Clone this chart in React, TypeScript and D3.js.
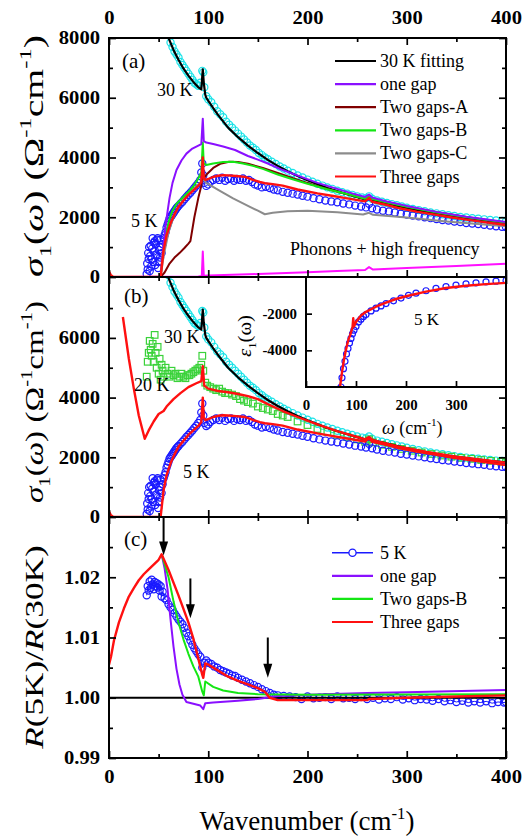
import React, { useEffect, useRef } from 'react';
import * as d3 from 'd3';

type Pt = [number, number];

// ---------- data (wavenumber cm-1, value) ----------
// panel (a) / (b): sigma_1(omega)
const data30K: Pt[] = [
  [58, 8300], [60, 8100], [62, 7850], [64, 7700], [66, 7550], [68, 7450], [70, 7350], [72, 7200], [74, 7100],
  [76, 7000], [78, 6900], [80, 6800], [82, 6700], [84, 6600], [86, 6500], [88, 6450], [90, 6400], [92, 6500],
  [94, 6900], [95, 6850], [96, 6350], [98, 6050], [100, 5950], [103, 5850], [106, 5700], [109, 5550], [112, 5450],
  [115, 5350], [118, 5200], [121, 5100], [124, 5000], [127, 4900], [130, 4800], [133, 4700], [136, 4600],
  [139, 4500], [142, 4400], [145, 4330], [148, 4250], [151, 4150], [154, 4080], [157, 4000], [160, 3940],
  [164, 3860], [168, 3780], [172, 3700], [176, 3630], [180, 3560], [185, 3480], [190, 3400], [195, 3330],
  [200, 3260], [205, 3190], [210, 3120], [215, 3060], [220, 3000], [225, 2950], [230, 2890], [235, 2840],
  [240, 2790], [245, 2750], [250, 2700], [255, 2660], [259, 2640], [262, 2700], [265, 2620], [270, 2560],
  [275, 2520], [280, 2480], [285, 2440], [290, 2400], [295, 2360], [300, 2320], [306, 2280], [312, 2240],
  [318, 2200], [324, 2160], [330, 2130], [336, 2100], [342, 2070], [348, 2040], [354, 2010], [360, 1990],
  [366, 1970], [372, 1950], [378, 1930], [384, 1910], [390, 1890], [396, 1875], [400, 1865],
];
const fit30K: Pt[] = [
  [56, 8450], [58, 8200], [60, 8000], [65, 7600], [70, 7270], [75, 6980], [80, 6740], [85, 6530], [90, 6350], [93, 6280],
  [94.5, 6950], [95.5, 6500], [97, 6100], [98, 6000], [105, 5650], [110, 5420], [120, 5000], [130, 4680],
  [140, 4400], [150, 4150], [160, 3920], [170, 3720], [180, 3540], [190, 3380], [200, 3240], [220, 2980],
  [240, 2770], [258, 2600], [262, 2660], [265, 2580], [280, 2460], [300, 2300], [320, 2170], [340, 2060],
  [360, 1970], [380, 1890], [400, 1830],
];
const data5K: Pt[] = [
  [38, 100], [38.5, 450], [39, 250], [39.5, 800], [40, 600], [40.5, 1000], [41, 200], [41.5, 700], [42, 1050],
  [42.5, 350], [43, 600], [43.5, 950], [44, 1300], [44.5, 500], [45, 850], [45.5, 1150], [46, 1200], [46.5, 400],
  [47, 1100], [47.5, 750], [48, 700], [48.5, 1250], [49, 1300], [49.5, 300], [50, 500], [50.5, 900], [51, 1000],
  [51.5, 650], [52, 1250], [52.5, 1000], [53, 800], [54, 1100], [55, 1300], [56, 1400], [57, 1500], [58, 1650],
  [59, 1750], [60, 1850], [61, 1950], [62, 2000], [63, 2050], [64, 2100], [65, 2150], [66, 2200], [67, 2250],
  [68, 2300], [69, 2340], [70, 2380], [72, 2450], [74, 2520], [76, 2600], [78, 2680], [80, 2750], [82, 2820],
  [84, 2900], [86, 2980], [88, 3060], [90, 3150], [92, 3250], [93, 3500], [94, 3800], [95, 3400], [96, 3150],
  [98, 3050], [100, 3100], [102, 3180], [105, 3250], [108, 3300], [111, 3250], [114, 3320], [117, 3220],
  [120, 3280], [123, 3300], [126, 3220], [129, 3280], [132, 3250], [135, 3300], [138, 3220], [141, 3250],
  [144, 3180], [147, 3100], [150, 3060], [154, 3000], [158, 3020], [162, 2980], [166, 2930], [170, 2900],
  [175, 2850], [180, 2820], [185, 2790], [190, 2760], [195, 2720], [200, 2690], [206, 2640], [212, 2600],
  [218, 2560], [224, 2530], [230, 2500], [236, 2460], [242, 2430], [248, 2390], [254, 2360], [259, 2330],
  [262, 2450], [265, 2300], [270, 2260], [276, 2220], [282, 2190], [288, 2160], [294, 2120], [300, 2090],
  [306, 2060], [312, 2030], [318, 2000], [324, 1970], [330, 1940], [336, 1910], [342, 1890], [348, 1860],
  [354, 1840], [360, 1810], [366, 1790], [372, 1770], [378, 1750], [384, 1720], [390, 1700], [396, 1680],
  [400, 1670],
];
const fitOneGap: Pt[] = [
  [0, 0], [52, 0], [53.5, 600], [55, 1100], [57, 1700], [59, 2200], [61, 2650], [64, 3150], [68, 3580],
  [73, 3900], [78, 4130], [84, 4300], [90, 4400], [93, 4450], [94.5, 5300], [95.5, 4550], [98, 4500],
  [105, 4450], [115, 4370], [127, 4250], [140, 4050], [150, 3930], [160, 3800], [175, 3580], [193, 3360],
  [210, 3150], [230, 2950], [245, 2800], [258, 2680], [262, 2760], [265, 2660], [280, 2530], [300, 2380],
  [330, 2180], [360, 2020], [400, 1840],
];
const fitTwoGapsA: Pt[] = [
  [0, 0], [52, 0], [56, 150], [61, 450], [66, 650], [71, 800], [76, 970], [80, 1120], [82, 1200], [86, 2000],
  [90, 2650], [93, 3050], [94.5, 3500], [95.5, 3300], [98, 3420], [105, 3650], [112, 3790], [121, 3860],
  [130, 3850], [140, 3790], [155, 3650], [170, 3480], [195, 3200], [215, 2990], [235, 2810], [258, 2620],
  [262, 2700], [265, 2610], [280, 2500], [300, 2360], [330, 2170], [360, 2010], [400, 1810],
];
const fitTwoGapsB: Pt[] = [
  [0, 0], [52, 0], [54, 700], [56, 1200], [58, 1550], [61, 1950], [64, 2220], [68, 2450], [74, 2650],
  [80, 2850], [85, 3030], [90, 3300], [93, 3500], [94.5, 4500], [95.5, 3800], [98, 3750], [105, 3800],
  [115, 3850], [125, 3860], [135, 3800], [145, 3720], [155, 3620], [170, 3430], [185, 3270], [200, 3120],
  [220, 2940], [240, 2780], [258, 2620], [262, 2700], [265, 2610], [280, 2490], [300, 2350], [330, 2160],
  [360, 2000], [400, 1820],
];
const fitTwoGapsC: Pt[] = [
  [0, 0], [52, 0], [55, 700], [60, 1500], [65, 2000], [70, 2350], [75, 2600], [80, 2800], [85, 2950],
  [90, 3100], [93, 3200], [94.5, 3400], [95.5, 3250], [98, 3150], [110, 2920], [125, 2630], [140, 2380],
  [150, 2220], [157, 2100], [165, 2150], [180, 2200], [200, 2220], [230, 2170], [256, 2090], [262, 2150],
  [266, 2080], [300, 1990], [340, 1860], [400, 1700],
];
const fitThreeGaps: Pt[] = [
  [0, 180], [2, 60], [4, 10], [6, 0], [52, 0], [55, 900], [58, 1400], [62, 1800], [66, 2100], [70, 2350],
  [75, 2550], [80, 2750], [85, 2900], [90, 3050], [93, 3180], [94.5, 4000], [95.5, 3320], [97, 3250],
  [100, 3280], [105, 3350], [110, 3390], [115, 3410], [120, 3400], [128, 3380], [137, 3350], [145, 3250],
  [152, 3180], [157, 3140], [165, 3110], [175, 3060], [190, 2930], [210, 2800], [226, 2710], [240, 2630],
  [258, 2530], [262, 2640], [265, 2520], [280, 2410], [293, 2300], [310, 2190], [330, 2080], [344, 2000],
  [360, 1920], [380, 1830], [400, 1740],
];
const phononsHighFreq: Pt[] = [
  [0, 0], [50, 5], [90, 20], [93.5, 30], [94.5, 850], [95.5, 40], [100, 50], [150, 100], [200, 160],
  [230, 200], [258, 235], [262, 330], [266, 250], [300, 300], [350, 370], [400, 440],
];
const data20K: Pt[] = [
  [38, 4700], [39, 5200], [40, 5500], [41, 5900], [42, 5600], [43, 5400], [44, 5800], [45, 5200], [46, 6100],
  [47, 5500], [48, 5000], [49, 5700], [50, 4800], [51, 5300], [52, 4600], [53, 5100], [54, 4900], [55, 4700],
  [57, 5000], [59, 4800], [61, 4700], [63, 4900], [65, 4750], [67, 4800], [69, 4650], [71, 4700], [73, 4800],
  [75, 4700], [77, 4650], [79, 4750], [81, 4750], [83, 4800], [85, 4850], [87, 4900], [89, 4950], [91, 5000],
  [93, 5100], [94, 5400], [95, 4900], [97, 4500], [99, 4400], [102, 4350], [105, 4300], [108, 4250],
  [111, 4300], [114, 4200], [117, 4150], [120, 4150], [124, 4100], [128, 4050], [132, 3950], [136, 3900],
  [140, 3850], [145, 3800], [150, 3700], [155, 3650], [160, 3600], [165, 3550], [170, 3450], [175, 3400],
  [180, 3350], [190, 3200], [200, 3080], [210, 2950], [220, 2850], [230, 2750], [240, 2680], [250, 2600],
  [258, 2520], [262, 2600], [266, 2500], [275, 2420], [285, 2350], [295, 2280], [305, 2220], [315, 2160],
  [325, 2110], [335, 2060], [345, 2020], [355, 1980], [365, 1950], [375, 1910], [385, 1880], [395, 1850],
  [400, 1840],
];
const fit20K: Pt[] = [
  [14, 6700], [20, 5300], [25, 4300], [30, 3400], [36, 2620], [40, 2900], [45, 3200], [50, 3450], [55, 3550],
  [58, 3700], [65, 3950], [72, 4150], [80, 4350], [88, 4480], [93, 4550], [94.5, 5050], [96, 4400],
  [100, 4300], [110, 4220], [120, 4180], [130, 4120], [140, 4050], [150, 3950], [160, 3780], [175, 3550],
  [190, 3350], [210, 3100], [230, 2880], [250, 2680], [258, 2600], [262, 2680], [266, 2570], [290, 2370],
  [320, 2180], [350, 2020], [380, 1900], [400, 1820],
];
// inset: epsilon_1 at 5 K
const eps5K: Pt[] = [
  [70, -6000], [72, -5500], [75, -5000], [78, -4600], [81, -4200], [84, -3900], [87, -3600], [90, -3350],
  [93, -3100], [96, -2900], [100, -2700], [105, -2450], [110, -2300], [115, -2150], [120, -2050], [130, -1850],
  [140, -1700], [150, -1580], [160, -1450], [175, -1300], [190, -1150], [205, -1000], [220, -880], [240, -750],
  [260, -620], [280, -520], [300, -440], [320, -380], [340, -320], [360, -270], [380, -230], [400, -190],
];
const epsFit5K: Pt[] = [
  [68, -6000], [72, -5200], [76, -4500], [80, -3950], [85, -3400], [88, -3200], [93, -2750], [94.5, -2250],
  [96, -2700], [100, -2450], [110, -2100], [120, -1900], [140, -1620], [160, -1400], [180, -1200],
  [200, -1050], [240, -800], [280, -600], [320, -480], [360, -390], [400, -320],
];
// panel (c): R(5K)/R(30K)
const ratio5K: Pt[] = [
  [38, 1.017], [39, 1.0185], [40, 1.0178], [41, 1.0193], [42, 1.0182], [43, 1.0196], [44, 1.0188], [45, 1.018],
  [46, 1.0192], [47, 1.0185], [48, 1.019], [49, 1.0183], [50, 1.0188], [51, 1.0178], [52, 1.0185], [53, 1.0168],
  [54, 1.0176], [56, 1.0165], [58, 1.0162], [60, 1.0155], [62, 1.015], [64, 1.0146], [66, 1.014], [68, 1.0135],
  [70, 1.013], [72, 1.0126], [74, 1.0122], [76, 1.0116], [78, 1.0108], [80, 1.0102], [82, 1.0095], [84, 1.0088],
  [86, 1.0082], [88, 1.0077], [90, 1.0072], [92, 1.0068], [94, 1.005], [96, 1.0058], [98, 1.0062], [100, 1.0058],
  [103, 1.0056], [106, 1.0052], [109, 1.005], [112, 1.0046], [115, 1.0044], [118, 1.0042], [121, 1.004],
  [124, 1.0037], [127, 1.0036], [130, 1.0033], [134, 1.003], [138, 1.0027], [142, 1.0024], [146, 1.0021],
  [150, 1.0018], [154, 1.0014], [158, 1.0011], [162, 1.0008], [166, 1.0005], [170, 1.0004], [176, 1.0003],
  [182, 1.0002], [188, 1.0001], [194, 0.9998], [200, 1.0002], [206, 0.9999], [212, 1.0], [218, 1.0001],
  [224, 0.9998], [230, 1.0002], [236, 0.9999], [242, 1.0], [248, 0.9998], [254, 1.0001], [260, 0.9998],
  [266, 1.0], [272, 0.9997], [278, 0.9999], [284, 0.9998], [290, 1.0001], [296, 0.9997], [302, 0.9999],
  [308, 0.9996], [314, 0.9998], [320, 0.9997], [326, 0.9995], [332, 0.9998], [338, 0.9994], [344, 0.9996],
  [350, 0.9993], [356, 0.9995], [362, 0.9992], [368, 0.9994], [374, 0.9992], [380, 0.9994], [386, 0.9991],
  [392, 0.9993], [398, 0.9992], [400, 0.9993],
];
const ratioThreeGaps: Pt[] = [
  [0, 1.0055], [2, 1.0068], [5, 1.0095], [10, 1.0125], [15, 1.0148], [20, 1.0168], [25, 1.0182], [30, 1.0195],
  [35, 1.0205], [40, 1.0213], [45, 1.0221], [50, 1.0229], [53, 1.0238], [60, 1.0212], [70, 1.017], [80, 1.0125],
  [85, 1.0098], [90, 1.0065], [94, 1.0038], [95, 1.0033], [97, 1.0057], [100, 1.0055], [110, 1.0045],
  [120, 1.0035], [130, 1.0028], [140, 1.0022], [150, 1.0016], [157, 1.001], [162, 1.0], [170, 0.9996],
  [200, 0.9996], [260, 0.9996], [262, 0.9998], [300, 1.0], [350, 1.0002], [400, 1.0004],
];
const ratioOneGap: Pt[] = [
  [53, 1.0238], [56, 1.0215], [59, 1.018], [62, 1.013], [65, 1.0085], [68, 1.0048], [71, 1.0022], [74, 1.0005],
  [78, 0.9993], [85, 0.999], [92, 0.9987], [95, 0.9981], [97, 0.9991], [105, 0.9992], [130, 0.9995],
  [150, 0.9998], [170, 1.0003], [200, 1.0005], [260, 1.0008], [300, 1.0009], [400, 1.0013],
];
const ratioTwoGapsB: Pt[] = [
  [53, 1.0238], [60, 1.02], [65, 1.016], [70, 1.0125], [75, 1.0097], [80, 1.0073], [85, 1.0052], [90, 1.0035],
  [94, 1.001], [95.5, 1.0004], [97, 1.0027], [105, 1.0018], [115, 1.0012], [130, 1.0008], [150, 1.0006],
  [200, 1.0005], [400, 1.0006],
];
// gap arrows in (c): [wavenumber, arrow top, arrow tip]
const gapArrows: [number, number, number][] = [[55, 1.03, 1.0236], [82, 1.0198, 1.0132], [160, 1.01, 1.0033]];

// axes
const xTicks = [0, 100, 200, 300, 400];
const xMinor = [50, 150, 250, 350];
const sigmaTicksA = [0, 2000, 4000, 6000, 8000];
const sigmaTicksB = [0, 2000, 4000, 6000];
const sigmaMinor = [1000, 3000, 5000, 7000];
const ratioTicks = [0.99, 1.0, 1.01, 1.02];
const ratioMinor = [0.995, 1.005, 1.015, 1.025];
const insetXTicks = [0, 100, 200, 300];
const insetYTicks = [-2000, -4000];

const C = {
  cyan: '#19e3e8', blue: '#1a1aff', black: '#000', violet: '#8a10ff', brown: '#800000',
  green: '#14e614', gray: '#8c8c8c', red: '#ff1010', magenta: '#ff10ff', green20: '#3ad23a',
};
const legendA = [
  { label: '30 K fitting', color: C.black },
  { label: 'one gap', color: C.violet },
  { label: 'Two gaps-A', color: C.brown },
  { label: 'Two gaps-B', color: C.green },
  { label: 'Two gaps-C', color: C.gray },
  { label: 'Three gaps', color: C.red },
];
const legendC = [
  { label: '5 K', color: C.blue, marker: true },
  { label: 'one gap', color: C.violet },
  { label: 'Two gaps-B', color: C.green },
  { label: 'Three gaps', color: C.red },
];

const FONT = '"Liberation Serif", "Times New Roman", "DejaVu Serif", serif';

type Part = { t: string; it?: boolean; sup?: boolean; sub?: boolean };
// write text made of pieces (italic, sub/superscript)
function rich(text: any, parts: Part[], fs: number) {
  let shift = 0;
  parts.forEach((p) => {
    const target = p.sup ? -0.42 * fs : p.sub ? 0.28 * fs : 0;
    text.append('tspan')
      .attr('dy', target - shift)
      .style('font-size', `${p.sup || p.sub ? fs * 0.62 : fs}px`)
      .style('font-style', p.it ? 'italic' : 'normal')
      .text(p.t);
    shift = target;
  });
}

function vTitle(svg: any, bx: number, cy: number, len: number, fs: number, parts: Part[]) {
  const g = svg.append('g').attr('transform', `translate(${bx},${cy}) rotate(-90)`);
  const t = g.append('text').attr('text-anchor', 'middle').style('font-family', FONT).style('font-size', `${fs}px`);
  rich(t, parts, fs);
  const w = t.node().getBBox().width;
  t.attr('transform', `scale(${len / w},1)`);
}

const labelW = (s: string, dw: number) =>
  s.split('').reduce((w, c) => w + (c === '.' ? dw * 0.5 : c === '-' ? dw * 0.68 : dw), 0);

// inward ticks (major + minor) on one side, optional bold labels
function ticks(g: any, side: string, scale: any, offset: number, major: number[], minor: number[],
  fmt?: (d: number) => string, o: { pad?: number; fs?: number; dw?: number; len?: number } = {}) {
  const gen: any = side === 'left' ? d3.axisLeft : side === 'right' ? d3.axisRight : side === 'top' ? d3.axisTop : d3.axisBottom;
  const tr = side === 'left' || side === 'right' ? `translate(${offset},0)` : `translate(0,${offset})`;
  const mk = (vals: number[], size: number, f: any) => {
    const a = g.append('g').attr('transform', tr)
      .call(gen(scale).tickValues(vals).tickSize(-size).tickSizeOuter(0).tickPadding(o.pad ?? 8).tickFormat(f));
    a.select('.domain').remove();
    a.selectAll('line').attr('stroke', '#000').attr('stroke-width', 1.7);
    return a;
  };
  if (minor.length) mk(minor, 4, () => '');
  const a = mk(major, o.len ?? 7, fmt ?? (() => ''));
  if (fmt) {
    const fs = o.fs ?? 18, dw = o.dw ?? 10.3;
    a.selectAll('text')
      .style('font-family', FONT).style('font-weight', 'bold').style('font-size', `${fs}px`).attr('fill', '#000')
      .attr('textLength', (d: number) => labelW(fmt(d), dw)).attr('lengthAdjust', 'spacingAndGlyphs');
  }
}

export default function App() {
  const ref = useRef<SVGSVGElement>(null);

  useEffect(() => {
    const svg = d3.select(ref.current);
    svg.selectAll('*').remove();

    // scales
    const x = d3.scaleLinear().domain([0, 400]).range([109, 506]);
    const yA = d3.scaleLinear().domain([0, 8000]).range([277, 38]);
    const yB = d3.scaleLinear().domain([0, 8040]).range([517, 277]);
    const yC = d3.scaleLinear().domain([0.99, 1.03]).range([758, 517]);
    const xI = d3.scaleLinear().domain([0, 400]).range([306, 506]);
    const yI = d3.scaleLinear().domain([-6000, 0]).range([387, 277]);

    const defs = svg.append('defs');
    const clip = (id: string, x0: number, y0: number, x1: number, y1: number) =>
      defs.append('clipPath').attr('id', id).append('rect')
        .attr('x', x0).attr('y', y0).attr('width', x1 - x0).attr('height', y1 - y0);
    clip('clipA', 109, 38, 506, 277);
    clip('clipB', 109, 277, 506, 517);
    clip('clipC', 109, 517, 506, 758);
    clip('clipI', 306, 277, 506, 387);

    const line = (ys: any, xs: any = x) => d3.line<Pt>().x((d) => xs(d[0])).y((d) => ys(d[1]));
    const path = (g: any, data: Pt[], ys: any, color: string, w = 2, xs: any = x) =>
      g.append('path').datum(data).attr('d', line(ys, xs)).attr('fill', 'none')
        .attr('stroke', color).attr('stroke-width', w).attr('stroke-linejoin', 'round');
    const circles = (g: any, data: Pt[], ys: any, color: string, r = 3.6, xs: any = x) =>
      g.append('g').selectAll('circle').data(data).join('circle')
        .attr('cx', (d: Pt) => xs(d[0])).attr('cy', (d: Pt) => ys(d[1])).attr('r', r)
        .attr('fill', 'none').attr('stroke', color).attr('stroke-width', 1.2);
    const txt = (x0: number, y0: number, s: string, fs = 18, anchor = 'start') =>
      svg.append('text').attr('x', x0).attr('y', y0).style('font-family', FONT).style('font-size', `${fs}px`)
        .attr('text-anchor', anchor).text(s);

    // --------- panel (a) ---------
    const gA = svg.append('g').attr('clip-path', 'url(#clipA)');
    circles(gA, data30K, yA, C.cyan);
    path(gA, fit30K, yA, C.black, 2.2);
    circles(gA, data5K, yA, C.blue);
    path(gA, phononsHighFreq, yA, C.magenta);
    path(gA, fitTwoGapsC, yA, C.gray);
    path(gA, fitTwoGapsA, yA, C.brown);
    path(gA, fitTwoGapsB, yA, C.green);
    path(gA, fitOneGap, yA, C.violet);
    path(gA, fitThreeGaps, yA, C.red, 2.4);

    // --------- panel (b) ---------
    const gB = svg.append('g').attr('clip-path', 'url(#clipB)');
    circles(gB, data30K, yB, C.cyan);
    gB.append('g').selectAll('rect').data(data20K).join('rect')
      .attr('x', (d: Pt) => x(d[0]) - 3.3).attr('y', (d: Pt) => yB(d[1]) - 3.3)
      .attr('width', 6.6).attr('height', 6.6).attr('fill', 'none').attr('stroke', C.green20).attr('stroke-width', 1.2);
    circles(gB, data5K, yB, C.blue);
    path(gB, fit30K, yB, C.black, 2.2);
    path(gB, fit20K, yB, C.red, 2.4);
    path(gB, fitThreeGaps, yB, C.red, 2.4);

    // --------- panel (c) ---------
    const gC = svg.append('g').attr('clip-path', 'url(#clipC)');
    path(gC, ratio5K, yC, C.blue, 1);
    circles(gC, ratio5K, yC, C.blue);
    gC.append('line').attr('x1', x(0)).attr('x2', x(400)).attr('y1', yC(1)).attr('y2', yC(1))
      .attr('stroke', '#000').attr('stroke-width', 1.8);
    path(gC, ratioOneGap, yC, C.violet);
    path(gC, ratioTwoGapsB, yC, C.green);
    path(gC, ratioThreeGaps, yC, C.red, 2.4);
    gapArrows.forEach(([v, top, tip]) => {
      const ax = x(v), yt = yC(tip);
      svg.append('line').attr('x1', ax).attr('x2', ax).attr('y1', yC(top)).attr('y2', yt - 10)
        .attr('stroke', '#000').attr('stroke-width', 2);
      svg.append('path').attr('d', `M${ax},${yt}L${ax - 4.5},${yt - 14}L${ax + 4.5},${yt - 14}Z`).attr('fill', '#000');
    });

    // --------- frames & ticks ---------
    [[38, 277], [277, 517], [517, 758]].forEach(([t, b]) =>
      svg.append('rect').attr('x', 109).attr('y', t).attr('width', 397).attr('height', b - t)
        .attr('fill', 'none').attr('stroke', '#000').attr('stroke-width', 2));
    const fmtInt = (d: number) => String(d);
    ticks(svg, 'top', x, 38, xTicks, xMinor, fmtInt, { pad: 14 });
    ticks(svg, 'bottom', x, 277, xTicks, xMinor);
    ticks(svg, 'left', yA, 109, sigmaTicksA, sigmaMinor, fmtInt, { pad: 9 });
    ticks(svg, 'right', yA, 506, sigmaTicksA, sigmaMinor);

    ticks(svg, 'top', x, 277, xTicks, xMinor);
    ticks(svg, 'bottom', x, 517, xTicks, xMinor);
    ticks(svg, 'left', yB, 109, sigmaTicksB, sigmaMinor, fmtInt, { pad: 9 });
    ticks(svg, 'right', yB, 506, sigmaTicksB, sigmaMinor);

    ticks(svg, 'top', x, 517, xTicks, xMinor);
    ticks(svg, 'bottom', x, 758, xTicks, xMinor, fmtInt, { pad: 12 });
    ticks(svg, 'left', yC, 109, ratioTicks, ratioMinor, d3.format('.2f'), { pad: 9 });
    ticks(svg, 'right', yC, 506, ratioTicks, ratioMinor);

    // --------- inset (eps_1) ---------
    svg.append('rect').attr('x', 306).attr('y', 277).attr('width', 200).attr('height', 110).attr('fill', '#fff');
    const gI = svg.append('g').attr('clip-path', 'url(#clipI)');
    circles(gI, eps5K, yI, C.blue, 3, xI);
    path(gI, epsFit5K, yI, C.red, 2.4, xI);
    svg.append('rect').attr('x', 306).attr('y', 277).attr('width', 200).attr('height', 110)
      .attr('fill', 'none').attr('stroke', '#000').attr('stroke-width', 2);
    ticks(svg, 'bottom', xI, 387, insetXTicks, [], fmtInt, { pad: 13, fs: 14, dw: 7.4, len: 6 });
    ticks(svg, 'left', yI, 306, insetYTicks, [], fmtInt, { pad: 9, fs: 14, dw: 7.4, len: 6 });
    txt(414, 325, '5 K', 17);
    const wl = svg.append('text').attr('x', 382).attr('y', 434).style('font-family', FONT).style('font-size', '18px');
    rich(wl, [{ t: 'ω', it: true }, { t: ' (cm' }, { t: '-1', sup: true }, { t: ')' }], 18);
    vTitle(svg, 251, 336, 42, 18, [{ t: 'ε', it: true }, { t: '1', sub: true }, { t: '(ω)' }]);

    // --------- legends ---------
    legendA.forEach((l, i) => {
      const ly = 61 + i * 23.1;
      svg.append('line').attr('x1', 335).attr('x2', 376).attr('y1', ly).attr('y2', ly)
        .attr('stroke', l.color).attr('stroke-width', 2.2);
      txt(380, ly + 6, l.label);
    });
    legendC.forEach((l, i) => {
      const ly = 552.7 + i * 23.1;
      svg.append('line').attr('x1', 332).attr('x2', 373).attr('y1', ly).attr('y2', ly)
        .attr('stroke', l.color).attr('stroke-width', l.marker ? 1.6 : 2.2);
      if (l.marker) svg.append('circle').attr('cx', 352.5).attr('cy', ly).attr('r', 3.6)
        .attr('fill', '#fff').attr('stroke', l.color).attr('stroke-width', 1.3);
      txt(380, ly + 6, l.label);
    });

    // --------- annotations ---------
    txt(122, 68, '(a)', 21);
    txt(157, 96, '30 K');
    txt(131, 227, '5 K');
    txt(290, 255, 'Phonons + high frequency');
    txt(124, 303, '(b)', 21);
    txt(164, 343, '30 K');
    txt(134, 391, '20 K');
    txt(183, 478, '5 K');
    txt(124, 546, '(c)', 21);

    // --------- axis titles ---------
    const sigmaParts: Part[] = [
      { t: 'σ', it: true }, { t: '1', sub: true }, { t: '(' }, { t: 'ω', it: true }, { t: ') (Ω' },
      { t: '-1', sup: true }, { t: 'cm' }, { t: '-1', sup: true }, { t: ')' },
    ];
    vTitle(svg, 43, 156, 242, 28, sigmaParts);
    vTitle(svg, 43, 402, 202, 26, sigmaParts);
    vTitle(svg, 43, 647, 205, 26, [{ t: 'R', it: true }, { t: '(5K)/' }, { t: 'R', it: true }, { t: '(30K)' }]);
    const xt = svg.append('text').attr('x', 307).attr('y', 830).attr('text-anchor', 'middle')
      .style('font-family', FONT).style('font-size', '27px');
    rich(xt, [{ t: 'Wavenumber (cm' }, { t: '-1', sup: true }, { t: ')' }], 27);
  }, []);

  return (
    <svg ref={ref} width={530} height={836}
      style={{ position: 'absolute', left: 0, top: 0, background: '#fff' }} />
  );
}
